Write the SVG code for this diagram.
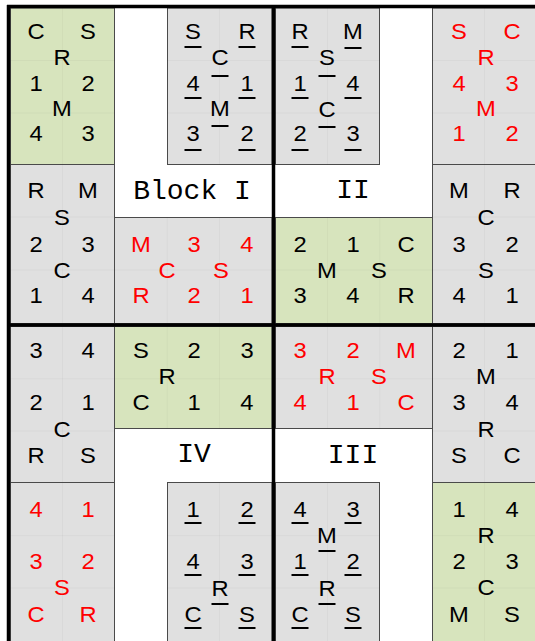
<svg xmlns="http://www.w3.org/2000/svg" width="535" height="641" viewBox="0 0 535 641">
<style>
.g{fill:#e0e0e0;stroke:#4a4a4a;stroke-width:1}
.gr{fill:#d7e4bd;stroke:#4a4a4a;stroke-width:1}
.f{stroke:#000;stroke-opacity:.03;fill:none;stroke-width:1}
.t{font-family:"Liberation Sans",Arial,sans-serif;font-size:22px;text-anchor:middle;fill:#000;transform-box:fill-box;transform-origin:center;transform:scaleX(1.08)}
.r{fill:#f00}
.lab{font-family:"Liberation Mono","DejaVu Sans Mono",monospace;font-size:28px;text-anchor:middle;fill:#000}
.u{stroke:#000;stroke-width:2;fill:none}
.k{stroke:#000;stroke-width:3.5}
</style>
<rect width="535" height="641" fill="#fff"/>
<g id="cellA">
<rect class="gr" x="10.5" y="8" width="104" height="156.5"/>
<path class="f" d="M62.4 8V164.5M10.5 60.5H114.5M10.5 113H114.5"/>
<text class="t" x="36" y="39">C</text><text class="t" x="88" y="39">S</text>
<text class="t" x="62" y="65">R</text>
<text class="t" x="36" y="91">1</text><text class="t" x="88" y="91">2</text>
<text class="t" x="62" y="116">M</text>
<text class="t" x="36" y="141">4</text><text class="t" x="88" y="141">3</text>
</g>
<g id="cellB">
<rect class="g" x="167.5" y="8" width="104.5" height="156.5"/>
<path class="f" d="M219.6 8V164.5M167.5 60.5H272M167.5 113H272"/>
<text class="t" x="193" y="39">S</text><text class="t" x="247" y="39">R</text>
<text class="t" x="220" y="65">C</text>
<text class="t" x="193" y="91">4</text><text class="t" x="247" y="91">1</text>
<text class="t" x="220" y="116">M</text>
<text class="t" x="193" y="141">3</text><text class="t" x="247" y="141">2</text>
<path class="u" d="M184.5 47h17M238.5 47h17M211.5 76h17M184.5 98h17M238.5 98h17M211.5 126h17M184.5 150h17M238.5 150h17"/>
</g>
<g id="cellC">
<rect class="g" x="275.5" y="8" width="104" height="156.5"/>
<path class="f" d="M327.4 8V164.5M275.5 60.5H379.5M275.5 113H379.5"/>
<text class="t" x="300" y="39">R</text><text class="t" x="353" y="39">M</text>
<text class="t" x="327" y="65">S</text>
<text class="t" x="300" y="91">1</text><text class="t" x="353" y="91">4</text>
<text class="t" x="327" y="117">C</text>
<text class="t" x="300" y="141">2</text><text class="t" x="353" y="141">3</text>
<path class="u" d="M291.5 47h17M344.5 48h17M318.5 76h17M291.5 98h17M344.5 98h17M318.5 127h17M291.5 150h17M344.5 150h17"/>
</g>
<g id="cellD">
<rect class="g" x="432.5" y="8" width="110" height="156.5"/>
<path class="f" d="M484.6 8V164.5M432.5 60.5H535M432.5 113H535"/>
<text class="t r" x="459" y="39">S</text><text class="t r" x="512" y="39">C</text>
<text class="t r" x="486" y="65">R</text>
<text class="t r" x="459" y="91">4</text><text class="t r" x="512" y="91">3</text>
<text class="t r" x="486" y="116">M</text>
<text class="t r" x="459" y="141">1</text><text class="t r" x="512" y="141">2</text>
</g>
<g id="cellE">
<rect class="g" x="10.5" y="164.5" width="104" height="159"/>
<path class="f" d="M62.4 164.5V323.5M10.5 217H114.5M10.5 270H114.5"/>
<text class="t" x="36" y="198">R</text><text class="t" x="88" y="198">M</text>
<text class="t" x="62" y="225">S</text>
<text class="t" x="36" y="252">2</text><text class="t" x="88" y="252">3</text>
<text class="t" x="62" y="278">C</text>
<text class="t" x="36" y="303">1</text><text class="t" x="88" y="303">4</text>
</g>
<g id="cellR1">
<rect class="g" x="114.5" y="217.5" width="157.5" height="106"/>
<path class="f" d="M167.2 217.5V323.5M219.6 217.5V323.5M114.5 270H272"/>
<text class="t r" x="141" y="252">M</text><text class="t r" x="194" y="252">3</text><text class="t r" x="247" y="252">4</text>
<text class="t r" x="167" y="278">C</text><text class="t r" x="221" y="278">S</text>
<text class="t r" x="141" y="303">R</text><text class="t r" x="194" y="303">2</text><text class="t r" x="247" y="303">1</text>
</g>
<g id="cellF">
<rect class="gr" x="275.5" y="217.5" width="157" height="106"/>
<path class="f" d="M327.4 217.5V323.5M379.8 217.5V323.5M275.5 270H432.5"/>
<text class="t" x="300" y="252">2</text><text class="t" x="353" y="252">1</text><text class="t" x="406" y="252">C</text>
<text class="t" x="327" y="278">M</text><text class="t" x="379" y="278">S</text>
<text class="t" x="300" y="303">3</text><text class="t" x="353" y="303">4</text><text class="t" x="406" y="303">R</text>
</g>
<g id="cellG">
<rect class="g" x="432.5" y="164.5" width="110" height="159"/>
<path class="f" d="M484.6 164.5V323.5M432.5 217H535M432.5 270H535"/>
<text class="t" x="459" y="198">M</text><text class="t" x="512" y="198">R</text>
<text class="t" x="486" y="225">C</text>
<text class="t" x="459" y="252">3</text><text class="t" x="512" y="252">2</text>
<text class="t" x="486" y="278">S</text>
<text class="t" x="459" y="303">4</text><text class="t" x="512" y="303">1</text>
</g>
<g id="cellH">
<rect class="g" x="10.5" y="326.5" width="104" height="156"/>
<path class="f" d="M62.4 326.5V482.5M10.5 378.8H114.5M10.5 431H114.5"/>
<text class="t" x="36" y="358">3</text><text class="t" x="88" y="358">4</text>
<text class="t" x="36" y="410">2</text><text class="t" x="88" y="410">1</text>
<text class="t" x="62" y="437">C</text>
<text class="t" x="36" y="463">R</text><text class="t" x="88" y="463">S</text>
</g>
<g id="cellI">
<rect class="gr" x="114.5" y="326.5" width="157.5" height="102"/>
<path class="f" d="M167.2 326.5V428.5M219.6 326.5V428.5M114.5 378.8H272"/>
<text class="t" x="141" y="358">S</text><text class="t" x="194" y="358">2</text><text class="t" x="247" y="358">3</text>
<text class="t" x="167" y="384">R</text>
<text class="t" x="141" y="410">C</text><text class="t" x="194" y="410">1</text><text class="t" x="247" y="410">4</text>
</g>
<g id="cellJ">
<rect class="g" x="275.5" y="326.5" width="157" height="102"/>
<path class="f" d="M327.4 326.5V428.5M379.8 326.5V428.5M275.5 378.8H432.5"/>
<text class="t r" x="300" y="358">3</text><text class="t r" x="353" y="358">2</text><text class="t r" x="406" y="358">M</text>
<text class="t r" x="327" y="384">R</text><text class="t r" x="379" y="384">S</text>
<text class="t r" x="300" y="410">4</text><text class="t r" x="353" y="410">1</text><text class="t r" x="406" y="410">C</text>
</g>
<g id="cellK">
<rect class="g" x="432.5" y="326.5" width="110" height="156"/>
<path class="f" d="M484.6 326.5V482.5M432.5 378.8H535M432.5 431H535"/>
<text class="t" x="459" y="358">2</text><text class="t" x="512" y="358">1</text>
<text class="t" x="486" y="384">M</text>
<text class="t" x="459" y="410">3</text><text class="t" x="512" y="410">4</text>
<text class="t" x="486" y="437">R</text>
<text class="t" x="459" y="463">S</text><text class="t" x="512" y="463">C</text>
</g>
<g id="cellL">
<rect class="g" x="10.5" y="482.5" width="104" height="170"/>
<path class="f" d="M62.4 482.5V641M10.5 535.7H114.5M10.5 588H114.5"/>
<text class="t r" x="36" y="517">4</text><text class="t r" x="88" y="517">1</text>
<text class="t r" x="36" y="569">3</text><text class="t r" x="88" y="569">2</text>
<text class="t r" x="62" y="595">S</text>
<text class="t r" x="36" y="622">C</text><text class="t r" x="88" y="622">R</text>
</g>
<g id="cellM">
<rect class="g" x="167.5" y="482.5" width="104.5" height="170"/>
<path class="f" d="M219.6 482.5V641M167.5 535.7H272M167.5 588H272"/>
<text class="t" x="193" y="517">1</text><text class="t" x="247" y="517">2</text>
<text class="t" x="193" y="569">4</text><text class="t" x="247" y="569">3</text>
<text class="t" x="220" y="596">R</text>
<text class="t" x="193" y="622">C</text><text class="t" x="247" y="622">S</text>
<path class="u" d="M184.5 523h17M238.5 523h17M184.5 575h17M238.5 575h17M211.5 604h17M184.5 628h17M238.5 628h17"/>
</g>
<g id="cellN">
<rect class="g" x="275.5" y="482.5" width="104" height="170"/>
<path class="f" d="M327.4 482.5V641M275.5 535.7H379.5M275.5 588H379.5"/>
<text class="t" x="300" y="517">4</text><text class="t" x="353" y="517">3</text>
<text class="t" x="327" y="543">M</text>
<text class="t" x="300" y="569">1</text><text class="t" x="353" y="569">2</text>
<text class="t" x="327" y="596">R</text>
<text class="t" x="300" y="622">C</text><text class="t" x="353" y="622">S</text>
<path class="u" d="M291.5 523h17M344.5 523h17M318.5 551h17M291.5 575h17M344.5 575h17M318.5 604h17M291.5 628h17M344.5 628h17"/>
</g>
<g id="cellO">
<rect class="gr" x="432.5" y="482.5" width="110" height="170"/>
<path class="f" d="M484.6 482.5V641M432.5 535.7H535M432.5 588H535"/>
<text class="t" x="459" y="517">1</text><text class="t" x="512" y="517">4</text>
<text class="t" x="486" y="543">R</text>
<text class="t" x="459" y="569">2</text><text class="t" x="512" y="569">3</text>
<text class="t" x="486" y="595">C</text>
<text class="t" x="459" y="622">M</text><text class="t" x="512" y="622">S</text>
</g>
<g id="labels">
<text class="lab" x="192" y="199">Block I</text>
<text class="lab" x="353" y="198">II</text>
<text class="lab" x="194" y="462">IV</text>
<text class="lab" x="353" y="463">III</text>
</g>
<g id="frame">
<line class="k" x1="8.5" y1="5" x2="8.5" y2="641"/>
<line class="k" x1="7" y1="6.5" x2="535" y2="6.5"/>
<line class="k" x1="273.5" y1="5" x2="273.5" y2="641"/>
<line class="k" x1="7" y1="325" x2="535" y2="325"/>
</g>
</svg>
